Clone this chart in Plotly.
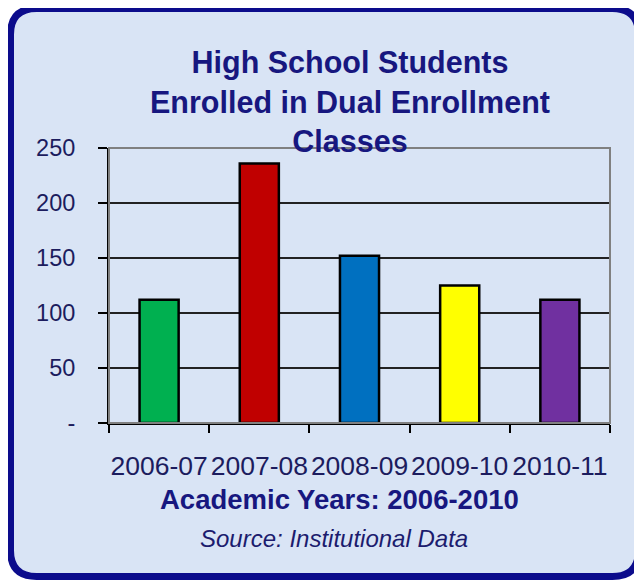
import plotly.graph_objects as go

years = ["2006-07", "2007-08", "2008-09", "2009-10", "2010-11"]
students = [112, 236, 152, 125, 112]
bar_colors = ["#00b050", "#c00000", "#0070c0", "#ffff00", "#7030a0"]
y_tickvals = [0, 50, 100, 150, 200, 250]
y_ticktext = ["-", "50", "100", "150", "200", "250"]

OFF = 8  # browser body margin
W, H = 642 - OFF, 581 - OFF
FONT = "Liberation Sans, Arial, sans-serif"
NAVY = "#17177f"
TICK = "#1c1c5e"

def px(x):
    return (x - OFF) / W

def py(y):
    return 1 - (y - OFF) / H

fig = go.Figure(go.Bar(
    x=years, y=students,
    marker=dict(color=bar_colors, line=dict(color="black", width=2.5)),
    width=0.39,
))

# rounded frame
l, t, r, b = px(10.5), py(8.5), px(638.5), py(576.5)
rx, ry = 26 / W, 26 / H
path = (f"M {l+rx},{t} L {r-rx},{t} Q {r},{t} {r},{t-ry} L {r},{b+ry} "
        f"Q {r},{b} {r-rx},{b} L {l+rx},{b} Q {l},{b} {l},{b+ry} L {l},{t-ry} "
        f"Q {l},{t} {l+rx},{t} Z")

fig.update_layout(
    width=W, height=H,
    margin=dict(l=0, r=0, t=0, b=0, autoexpand=False),
    paper_bgcolor="white",
    plot_bgcolor="white",
    showlegend=False,
    shapes=[
        dict(type="path", path=path, xref="paper", yref="paper", layer="below",
             fillcolor="#d9e4f5", line=dict(color="#0c0c8c", width=7)),
        dict(type="rect", xref="x domain", yref="y domain", x0=0, x1=1, y0=0, y1=1,
             line=dict(color="#808080", width=2), layer="above"),
    ],
    xaxis=dict(
        type="category", automargin=False, tickangle=0,
        domain=[px(109), px(610)],
        showgrid=False, showline=True, linecolor="black", linewidth=2,
        ticks="outside", tickson="boundaries", ticklen=8, tickcolor="black", tickwidth=1.5,
        tickfont=dict(family=FONT, size=26.5, color=TICK),
        ticklabelstandoff=18,
    ),
    yaxis=dict(
        automargin=False,
        domain=[py(423), py(148)],
        range=[0, 250], tickvals=y_tickvals, ticktext=y_ticktext,
        showgrid=True, gridcolor="#222222", gridwidth=1.5,
        showline=True, linecolor="black", linewidth=2, zeroline=False,
        ticks="outside", ticklen=9, tickcolor="black", tickwidth=1.5,
        tickfont=dict(family=FONT, size=23.5, color=TICK),
        ticklabelstandoff=18,
    ),
    annotations=[
        dict(text="<b>High School Students<br>Enrolled in Dual Enrollment<br>Classes</b>",
             x=px(350), y=py(101), xref="paper", yref="paper", showarrow=False,
             xanchor="center", yanchor="middle",
             font=dict(family=FONT, size=30.5, color=NAVY)),
        dict(text="<b>Academic Years: 2006-2010</b>",
             x=px(339), y=py(499), xref="paper", yref="paper", showarrow=False,
             xanchor="center", yanchor="middle",
             font=dict(family=FONT, size=27.5, color=NAVY)),
        dict(text="<i>Source: Institutional Data</i>",
             x=px(334), y=py(538), xref="paper", yref="paper", showarrow=False,
             xanchor="center", yanchor="middle",
             font=dict(family=FONT, size=24, color="#1c1c6e")),
    ],
)

fig.write_html("out.html")
